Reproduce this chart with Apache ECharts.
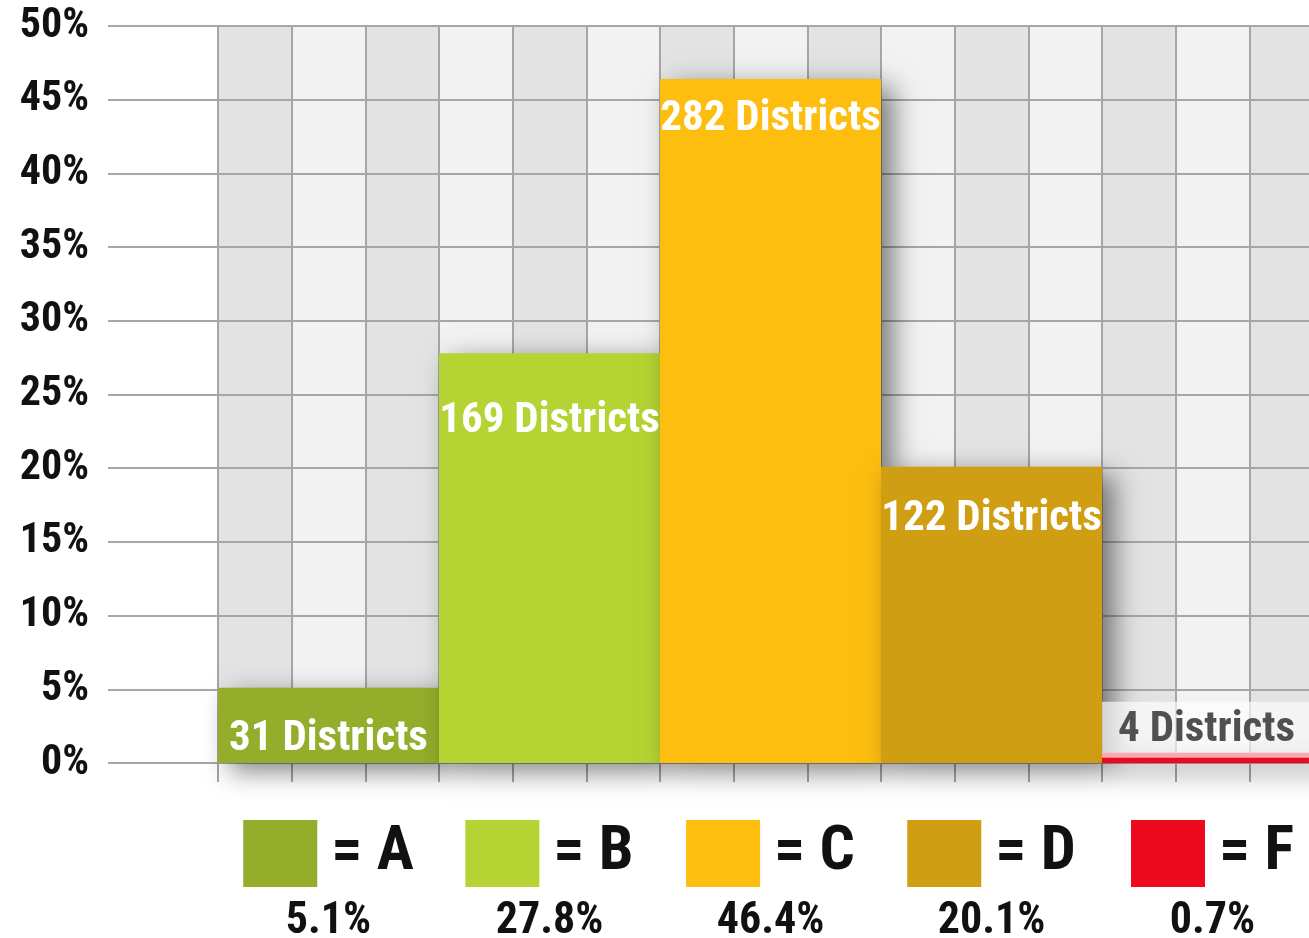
<!DOCTYPE html>
<html>
<head>
<meta charset="utf-8">
<script src="https://cdn.jsdelivr.net/npm/echarts@6/dist/echarts.min.js"></script>
<style>
html,body{margin:0;padding:0;background:#fff;}
#chart{width:1309px;height:938px;}
</style>
</head>
<body>
<div id="chart"></div>
<script>
const grades = ['A', 'B', 'C', 'D', 'F'];
const percents = [5.1, 27.8, 46.4, 20.1, 0.7];
const districts = [31, 169, 282, 122, 4];
const yTickMax = 50;
const yTickStep = 5;

const FONT = "'Roboto Condensed', 'DejaVu Sans Condensed', sans-serif";
const colors = ['#94ad2b', '#b5d333', '#fdbe10', '#d09e12', '#ee0a1e'];
const labelDist = [29, 46, 18, 31];
const gridColor = '#a6a6a6';

const rich = {
  t: { fontFamily: FONT, fontWeight: 'bold', fontSize: 62, color: '#111', lineHeight: 67, padding: [0, 0, 0, 14] },
  p: { fontFamily: FONT, fontWeight: 'bold', fontSize: 44, color: '#111', lineHeight: 70 }
};
grades.forEach((g, i) => {
  rich['b' + i] = { backgroundColor: colors[i], width: 74, height: 67 };
});

const barData = percents.map((v, i) => {
  const item = {
    value: v,
    itemStyle: { color: colors[i] }
  };
  if (i < 4) {
    item.label = {
      show: true,
      position: 'insideTop',
      distance: labelDist[i],
      formatter: districts[i] + ' Districts',
      color: '#fff',
      fontFamily: FONT,
      fontWeight: 'bold',
      fontSize: 43,
      lineHeight: 44
    };
  } else {
    item.label = {
      show: true,
      position: [0, -51],
      align: 'left',
      verticalAlign: 'top',
      formatter: districts[i] + ' Districts',
      color: '#505050',
      fontFamily: FONT,
      fontWeight: 'bold',
      fontSize: 43,
      lineHeight: 46,
      width: 205,
      padding: [6, 0, 4, 16],
      backgroundColor: 'rgba(255,255,255,0.65)'
    };
  }
  return item;
});

const chart = echarts.init(document.getElementById('chart'));
chart.setOption({
  animation: false,
  grid: { left: 218, right: -14, top: 26, bottom: 175, containLabel: false, outerBoundsMode: 'none' },
  xAxis: [
    {
      type: 'category',
      data: grades,
      position: 'bottom',
      axisLine: { show: false },
      axisTick: { show: false },
      splitLine: { show: false },
      axisLabel: {
        interval: 0,
        margin: 57,
        align: 'center',
        hideOverlap: false,
        formatter: (value, idx) => '{b' + idx + '|}{t|= ' + value + '}\n{p|' + percents[idx] + '%}',
        rich: rich
      },
      z: 3
    },
    {
      type: 'value',
      min: 0,
      max: 15,
      interval: 1,
      position: 'bottom',
      axisLine: { show: false },
      axisLabel: { show: false },
      axisTick: { show: true, length: 19, lineStyle: { color: gridColor, width: 2 } },
      splitLine: { show: true, lineStyle: { color: gridColor, width: 2 } },
      splitArea: { show: true, areaStyle: { color: ['#e3e3e3', '#f2f2f2'] } },
      z: 0
    }
  ],
  yAxis: {
    type: 'value',
    min: 0,
    max: yTickMax,
    interval: yTickStep,
    axisLine: { show: false },
    axisTick: { show: true, length: 110, lineStyle: { color: gridColor, width: 2 } },
    splitLine: { show: true, lineStyle: { color: gridColor, width: 2 } },
    axisLabel: {
      margin: 129,
      formatter: '{value}%',
      fontFamily: FONT,
      fontWeight: 'bold',
      fontSize: 42,
      color: '#111'
    },
    z: 1
  },
  series: [{
    type: 'bar',
    xAxisIndex: 0,
    yAxisIndex: 0,
    data: barData,
    barWidth: '100%',
    barCategoryGap: 0,
    itemStyle: {
      shadowColor: 'rgba(0,0,0,0.5)',
      shadowBlur: 26,
      shadowOffsetX: 12,
      shadowOffsetY: 8
    },
    z: 4
  }]
});
</script>
</body>
</html>
